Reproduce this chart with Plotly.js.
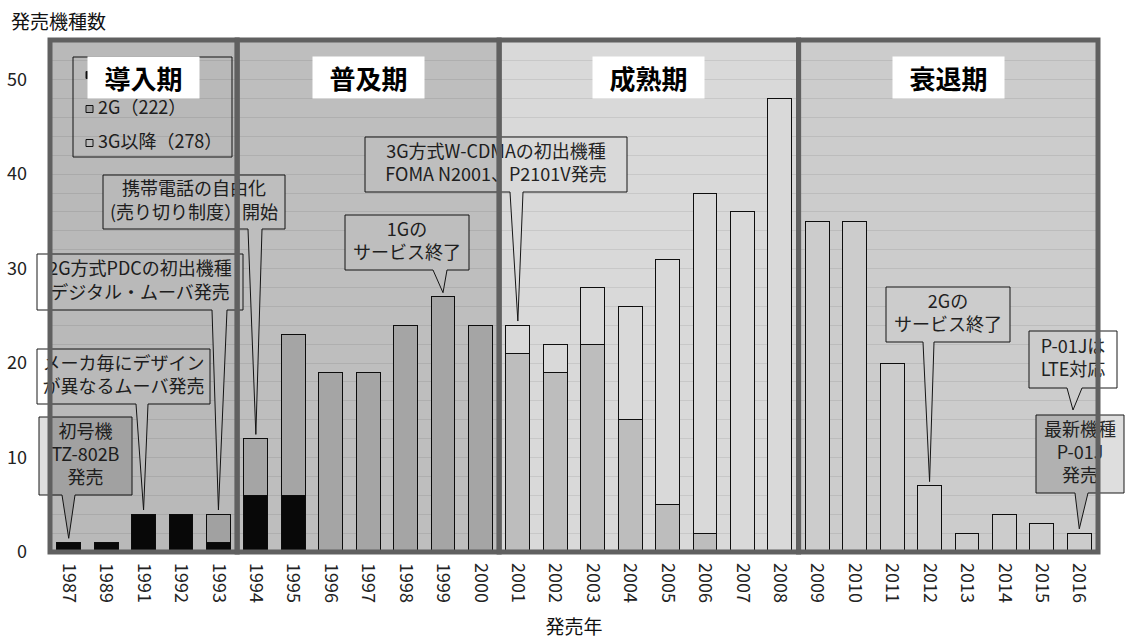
<!DOCTYPE html>
<html>
<head>
<meta charset="utf-8">
<script src="https://cdn.plot.ly/plotly-3.0.1.min.js"></script>
<style>
html,body{margin:0;padding:0;background:#fff;}
#chart{width:1128px;height:639px;}
</style>
</head>
<body>
<div id="chart"></div>
<script>
// ---------- data ----------
const years = ['1987','1989','1991','1992','1993','1994','1995','1996','1997','1998','1999','2000',
               '2001','2002','2003','2004','2005','2006','2007','2008','2009','2010','2011','2012',
               '2013','2014','2015','2016'];
const gen1 = [1,1,4,4,1,6,6,null,null,null,null,null,null,null,null,null,null,null,null,null,null,null,null,null,null,null,null,null];
const gen2 = [null,null,null,null,3,6,17,19,19,24,27,24,21,19,22,14,5,2,null,null,null,null,null,null,null,null,null,null];
const gen3 = [null,null,null,null,null,null,null,null,null,null,null,null,3,3,6,12,26,36,36,48,35,35,20,7,2,4,3,2];
const seriesNames = ['1G','2G','3G以降'];
const phaseNames = ['導入期','普及期','成熟期','衰退期'];
const phaseStart = ['1987','1994','2001','2009'];
const phaseEnd   = ['1993','2000','2008','2016'];
const yTitle = '発売機種数';
const xTitle = '発売年';

// ---------- styles / layout geometry ----------
const FONT = "'Noto Sans CJK JP','Noto Sans',sans-serif";
const L = 50, R = 1098, T = 40, B = 552;
const W = R - L, H = B - T;
const YMAX = 54.2;
const N = years.length;
const fx = px => (px - L) / W;          // pixel -> x domain fraction
const fy = py => (B - py) / H;          // pixel -> y domain fraction
const cx = i => (i + 0.5) / N;          // category index -> x domain fraction
const cy = v => v / YMAX;               // value -> y domain fraction
const total = i => (gen1[i] || 0) + (gen2[i] || 0) + (gen3[i] || 0);
const sum = a => a.reduce((s, v) => s + (v || 0), 0);

const overlayAlpha = [0.275, 0.255, 0.15, 0.2];
const barColors = ['#0c0c0c', '#dedede', '#ffffff'];

// callout boxes: layout positions in pixels, pointer anchored to a bar
const callouts = [
  {text:'初号機<br>TZ-802B<br>発売', box:[39,132,417,495], wedge:[62,75], year:'1987', fill:'#dedede'},
  {text:'メーカ毎にデザイン<br>が異なるムーバ発売', box:[37,210,349,404], wedge:[136,148], year:'1991', fill:'#ffffff'},
  {text:'2G方式PDCの初出機種<br>デジタル・ムーバ発売', box:[37,243,254,310], wedge:[212,227], year:'1993', fill:'#ffffff'},
  {text:'携帯電話の自由化<br>(売り切り制度）開始', box:[103,285,175,229], wedge:[248,262], year:'1994', fill:'#ffffff'},
  {text:'1Gの<br>サービス終了', box:[345,469,215,270], wedge:[433,447], year:'1999', fill:'#ffffff'},
  {text:'3G方式W-CDMAの初出機種<br>FOMA N2001、P2101V発売', box:[365,627,137,192], wedge:[510,523], year:'2001', fill:'#ffffff'},
  {text:'2Gの<br>サービス終了', box:[886,1010,287,342], wedge:[923,934], year:'2012', fill:'#ffffff'},
  {text:'P-01Jは<br>LTE対応', box:[1029,1117,331,388], wedge:[1067,1082], tipPx:[1073,410], fill:'#ffffff'},
  {text:'最新機種<br>P-01J<br>発売', box:[1036,1124,415,493], wedge:[1075,1088], year:'2016', fill:'#dedede'}
];

// ---------- traces ----------
const traces = [gen1, gen2, gen3].map((vals, k) => ({
  type: 'bar',
  x: years,
  y: vals,
  name: seriesNames[k],
  marker: {color: barColors[k], line: {color: '#111111', width: 1}},
  showlegend: false,
  hoverinfo: 'skip'
}));

// ---------- shapes ----------
const shapes = [];
const textFont = {family: FONT, size: 18, color: '#2a2a2a'};

// legend (drawn manually, under the phase overlay)
shapes.push({type:'rect', xref:'x domain', yref:'y domain', layer:'above',
  x0: fx(73), x1: fx(232), y0: fy(157), y1: fy(57),
  line:{color:'#1a1a1a', width:1}, fillcolor:'rgba(0,0,0,0)'});
[gen1, gen2, gen3].forEach((vals, k) => {
  const yc = 75 + k * 34;
  shapes.push({type:'rect', xref:'x domain', yref:'y domain', layer:'above',
    x0: fx(86), x1: fx(93), y0: fy(yc + 3.5), y1: fy(yc - 3.5),
    line:{color:'#1a1a1a', width:1}, fillcolor: barColors[k]});
  shapes.push({type:'rect', xref:'x domain', yref:'y domain', layer:'above',
    x0: fx(95), x1: fx(230), y0: fy(yc + 12), y1: fy(yc - 12),
    line:{width:0}, fillcolor:'rgba(0,0,0,0)',
    label:{text: seriesNames[k] + '（' + sum(vals) + '）', font: textFont,
           textposition:'middle left', padding:0}});
});

// callouts
callouts.forEach(c => {
  const x0 = fx(c.box[0]), x1 = fx(c.box[1]), yt = fy(c.box[2]), yb = fy(c.box[3]);
  const wl = fx(c.wedge[0]), wr = fx(c.wedge[1]);
  let tx, ty;
  if (c.year) {
    const i = years.indexOf(c.year);
    tx = cx(i); ty = cy(total(i) + 0.45);
  } else {
    tx = fx(c.tipPx[0]); ty = fy(c.tipPx[1]);
  }
  shapes.push({type:'path', xref:'x domain', yref:'y domain', layer:'above',
    path: `M${x0},${yt}L${x1},${yt}L${x1},${yb}L${wr},${yb}L${tx},${ty}L${wl},${yb}L${x0},${yb}Z`,
    fillcolor: c.fill, line:{color:'#1a1a1a', width:1}});
  shapes.push({type:'rect', xref:'x domain', yref:'y domain', layer:'above',
    x0: x0, x1: x1, y0: yb, y1: yt, line:{width:0}, fillcolor:'rgba(0,0,0,0)',
    label:{text: c.text, font: textFont, textposition:'middle center', padding:0}});
});

// phase overlays and borders
const phaseIdx = phaseNames.map((n, k) => [years.indexOf(phaseStart[k]), years.indexOf(phaseEnd[k])]);
phaseIdx.forEach((p, k) => {
  shapes.push({type:'rect', xref:'x domain', yref:'y domain', layer:'above',
    x0: p[0] / N, x1: (p[1] + 1) / N, y0: 0, y1: 1,
    line:{width:0}, fillcolor:`rgba(0,0,0,${overlayAlpha[k]})`});
});
phaseIdx.forEach((p, k) => {
  shapes.push({type:'rect', xref:'x domain', yref:'y domain', layer:'above',
    x0: p[0] / N, x1: (p[1] + 1) / N, y0: 0, y1: 1,
    line:{color:'#606060', width:5}, fillcolor:'rgba(0,0,0,0)'});
});

// phase labels
const annotations = phaseIdx.map((p, k) => ({
  xref:'x domain', yref:'y domain',
  x: (p[0] + p[1] + 1) / 2 / N, y: fy(77.5),
  text: phaseNames[k], showarrow:false,
  font:{family: FONT, size: 26, color:'#000', weight: 700},
  bgcolor:'#ffffff', width: 111, height: 41, borderpad: 0,
  xanchor:'center', yanchor:'middle'
}));

const layout = {
  width: 1128, height: 639,
  margin: {l: L, r: 1128 - R, t: T, b: 639 - B},
  paper_bgcolor: '#ffffff', plot_bgcolor: '#ffffff',
  barmode: 'stack', bargap: 0.36,
  font: {family: FONT, size: 18, color: '#222'},
  title: {text: yTitle, xref:'container', yref:'container', x: 11/1128, xanchor:'left',
          y: 1 - 22/639, yanchor:'middle', font:{family: FONT, size: 19, color:'#111'}},
  xaxis: {type:'category', range:[-0.5, N - 0.5], tickangle: 90, ticks:'',
          showgrid:false, zeroline:false, showline:false,
          tickfont:{family: FONT, size: 18, color:'#222'}, ticklabelstandoff: 10,
          title:{text: xTitle, font:{family: FONT, size: 19, color:'#111'}, standoff: 22},
          fixedrange:true},
  yaxis: {range:[0, YMAX], dtick: 10, tick0: 0, ticks:'', showline:false, zeroline:false,
          showgrid:true, gridcolor:'#ebebeb', gridwidth:1,
          minor:{dtick: 2, showgrid:true, gridcolor:'#ebebeb', gridwidth:1},
          tickfont:{family: FONT, size: 18, color:'#222'}, ticklabelstandoff: 22,
          fixedrange:true},
  shapes: shapes,
  annotations: annotations,
  showlegend: false
};

Plotly.newPlot('chart', traces, layout, {displayModeBar:false, staticPlot:true});
</script>
</body>
</html>
